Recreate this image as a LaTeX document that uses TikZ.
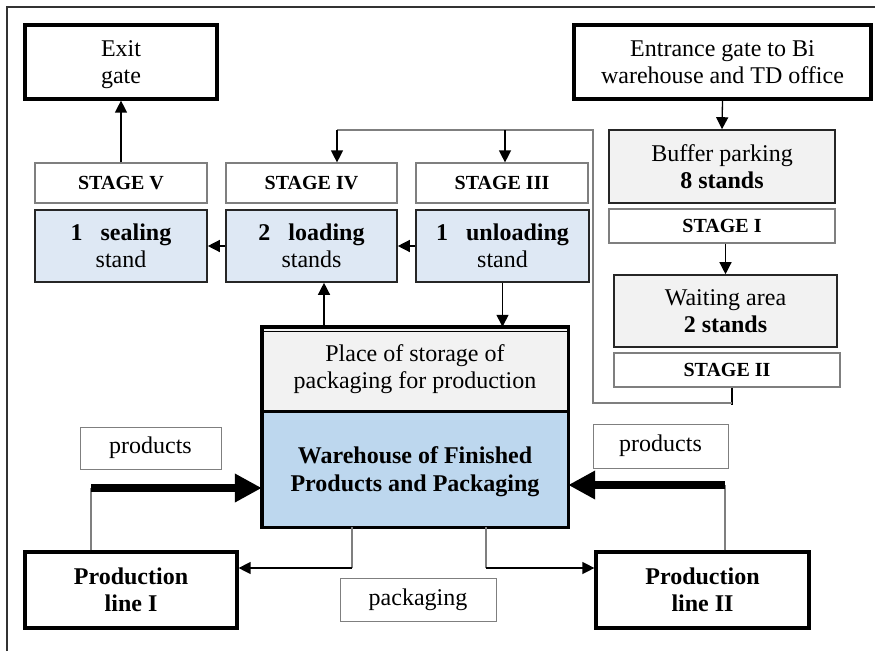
\documentclass[tikz,border=0pt]{standalone}
\usepackage{fontspec}
\setmainfont{Liberation Serif}
\usetikzlibrary{arrows.meta,calc}
\definecolor{standblue}{HTML}{DEE8F4}
\definecolor{storeblue}{HTML}{BDD7EE}
\definecolor{lightgray}{HTML}{F2F2F2}
\definecolor{linegray}{HTML}{7F7F7F}
\tikzset{
  base/.style={rectangle, inner sep=0pt, align=center, font=\fontsize{24}{27}\selectfont},
  gatebox/.style={base, draw=black, line width=3.2pt},
  stagebox/.style={base, draw=linegray, line width=1.2pt, font=\fontsize{20}{22}\selectfont\bfseries},
  standbox/.style={base, draw=black!85, line width=1.6pt, fill=standblue},
  areabox/.style={base, draw=black!85, line width=1.6pt, fill=lightgray},
  labelbox/.style={base, draw=linegray, line width=1pt},
  arr/.style={line width=1.3pt, -{Triangle[length=12pt,width=12pt]}},
  fbline/.style={draw=linegray, line width=1.3pt},
  leg/.style={draw=linegray, line width=1.1pt},
  bigarr/.style={line width=8pt, -{Triangle[length=27pt,width=27pt]}}
}
\begin{document}
\begin{tikzpicture}[x=1pt,y=-1pt]
\useasboundingbox (0,0) rectangle (875,651);
% frame
\draw[black!80, line width=1.3pt] (7,651) -- (7,7) -- (875,7);

% gates
\node[gatebox, minimum width=192pt, minimum height=74pt] (exit) at (121,62) {\rule{0pt}{22pt}Exit\\gate};
\node[gatebox, minimum width=297pt, minimum height=74pt] (entr) at (722.5,62) {Entrance gate to Bi\\warehouse and TD office};

% stage labels
\node[stagebox, minimum width=172pt, minimum height=40pt] (st5) at (121,183) {STAGE V};
\node[stagebox, minimum width=171pt, minimum height=40pt] (st4) at (311.5,183) {STAGE IV};
\node[stagebox, minimum width=172pt, minimum height=40pt] (st3) at (502,183) {STAGE III};

% stands
\node[standbox, minimum width=172pt, minimum height=72pt] (seal) at (121,246) {\textbf{1~~~sealing}\\stand};
\node[standbox, minimum width=171pt, minimum height=72pt] (load) at (311.5,246) {\textbf{2~~~loading}\\stands};
\node[standbox, minimum width=173pt, minimum height=72pt] (unload) at (502.5,246) {\textbf{1~~~unloading}\\stand};

% entrance side
\node[areabox, minimum width=226pt, minimum height=73pt] (buffer) at (722,166.5) {Buffer parking\\\textbf{8 stands}};
\node[stagebox, minimum width=226pt, minimum height=34pt] (st1) at (722,226) {STAGE I};
\node[areabox, minimum width=223pt, minimum height=72pt] (wait) at (725.5,311) {Waiting area\\\textbf{2 stands}};
\node[stagebox, minimum width=226pt, minimum height=34pt] (st2) at (727,370) {STAGE II};

% warehouse
\node[base, fill=lightgray, minimum width=306pt, minimum height=84pt] (store) at (415,369) {Place of storage of\\packaging for production};
\node[base, fill=storeblue, minimum width=306pt, minimum height=116pt, font=\fontsize{24}{28}\selectfont\bfseries] (whouse) at (415,469) {\rule{0pt}{22pt}Warehouse of Finished\\Products and Packaging};
\draw[black, line width=3.4pt] (store.north west) rectangle (whouse.south east);
\draw[black, line width=3pt] (store.south west) -- (store.south east);
\draw[black, line width=1.2pt] ([yshift=-4.5pt]store.north west) -- ([yshift=-4.5pt]store.north east);

% product labels and lines
\node[labelbox, minimum width=141pt, minimum height=42pt] (prodL) at (150.5,448) {products};
\node[labelbox, minimum width=135pt, minimum height=44pt] (prodR) at (660.5,446) {products};
\node[labelbox, minimum width=156pt, minimum height=43pt] (pack) at (418,599.5) {packaging};
\node[gatebox, minimum width=212pt, minimum height=76pt, font=\fontsize{24}{27}\selectfont\bfseries] (line1) at (131,590) {Production\\line I};
\node[gatebox, minimum width=213pt, minimum height=76pt, font=\fontsize{24}{27}\selectfont\bfseries] (line2) at (702.5,590) {Production\\line II};

% flow arrows
\draw[arr] (st5.north) -- (exit.south);
\draw[arr] (entr.south) -- (buffer.north);
\draw[arr] (st1.south -| wait.north) -- (wait.north);
\draw[arr] (unload.west) -- (load.east);
\draw[arr] (load.west) -- (seal.east);
\draw[arr] (unload.south) -- (unload.south |- store.north);
\draw[arr] ([xshift=12.5pt]load.south |- store.north) -- ([xshift=12.5pt]load.south);

% return loop from stage II back to stages III and IV
\coordinate (fbA) at (593,403);
\coordinate (fbB) at (593,130);
\coordinate (fbT) at (337,130);
\draw[black, line width=1.3pt] ([xshift=5pt]st2.south) -- ([xshift=5pt]st2.south |- 0,405);
\draw[fbline] ([xshift=5pt]st2.south |- fbA) -- (fbA) -- (fbB) -- (fbT);
\draw[arr] (fbT) -- (fbT |- st4.north);
\draw[arr] ([xshift=3pt]st3.north |- fbB) -- ([xshift=3pt]st3.north);

% products into the warehouse
\coordinate (pL) at (91,488);
\coordinate (pR) at (725,485);
\draw[leg] (pL |- line1.north) -- (pL);
\draw[leg] (pR |- line2.north) -- (pR);
\draw[bigarr] (pL) -- (pL -| whouse.west);
\draw[bigarr] (pR) -- (pR -| whouse.east);

% packaging out to the lines
\coordinate (kL) at (352,568);
\coordinate (kR) at (486,568);
\draw[leg] (kL |- whouse.south) -- (kL);
\draw[arr] (kL) -- (kL -| line1.east);
\draw[leg] (kR |- whouse.south) -- (kR);
\draw[arr] (kR) -- (kR -| line2.west);
\end{tikzpicture}
\end{document}
